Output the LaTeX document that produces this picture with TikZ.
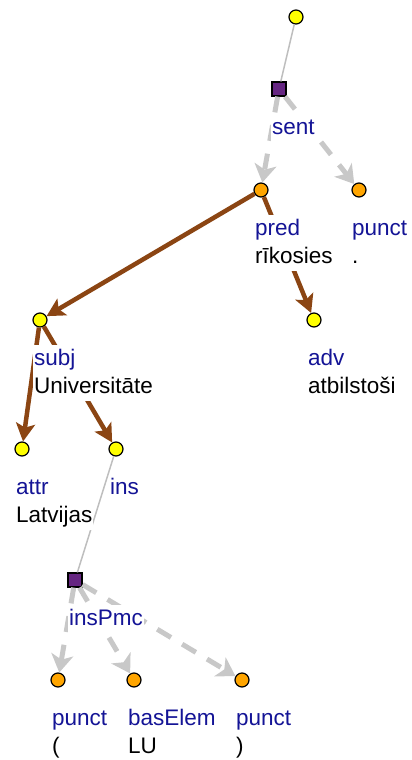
\documentclass[tikz,border=0pt]{standalone}
\usepackage{fontspec}
\setmainfont{Liberation Sans}
\usetikzlibrary{arrows.meta}

\definecolor{tokyellow}{RGB}{255,255,0}
\definecolor{tokorange}{RGB}{255,165,0}
\definecolor{phrpurple}{RGB}{102,38,130}
\definecolor{depbrown}{RGB}{139,69,19}
\definecolor{phrgray}{RGB}{200,200,200}
\definecolor{thingray}{RGB}{190,190,190}
\definecolor{fnblue}{RGB}{20,20,150}

\begin{document}
\begin{tikzpicture}
            [x=1pt,y=-1pt,
             tok/.style={draw, circle, line width=1.2pt, inner sep=0pt, minimum size=14pt},
             phr/.style={draw, rectangle, fill=phrpurple, line width=1.2pt, inner sep=0pt, minimum size=14pt},
             lbl/.style={font=\fontsize{22.5}{27}\selectfont, fill=white, anchor=base west,
                         inner xsep=1pt, inner ysep=3pt, text height=17pt, text depth=5pt},
             fn/.style={lbl, text=fnblue},
             wd/.style={lbl, text=black},
             dep/.style={draw=depbrown, line width=4.5pt, -{Stealth[length=18pt,width=19pt,inset=4pt]}},
             coord/.style={draw=phrgray, line width=5pt, dash pattern=on 16pt off 13pt,
                           -{Stealth[length=18pt,width=22pt,inset=5pt]}},
             link/.style={draw=thingray, line width=1.5pt}]
            \useasboundingbox (0,0) rectangle (412,760);

            % tree nodes
            \node[tok, fill=tokyellow] (root) at (296,17) {};
            \node[phr] (sent) at (279,89) {};
            \node[tok, fill=tokorange] (pred) at (261,190) {};
            \node[tok, fill=tokorange] (punctA) at (359,190) {};
            \node[tok, fill=tokyellow] (subj) at (40,320) {};
            \node[tok, fill=tokyellow] (adv) at (314,320) {};
            \node[tok, fill=tokyellow] (attr) at (22,449) {};
            \node[tok, fill=tokyellow] (ins) at (116,449) {};
            \node[phr] (insPmc) at (75,580) {};
            \node[tok, fill=tokorange] (punctB) at (58,680) {};
            \node[tok, fill=tokorange] (basElem) at (134,680) {};
            \node[tok, fill=tokorange] (punctC) at (242,680) {};

            % edges
            \foreach \from/\to in {root/sent, ins/insPmc}
            \draw[link] (\from) -- (\to);
            \foreach \from/\to in {sent/pred, sent/punctA, insPmc/punctB, insPmc/basElem, insPmc/punctC}
            \draw[coord] (\from) -- (\to);
            \foreach \from/\to in {pred/subj, pred/adv, subj/attr, subj/ins}
            \draw[dep] (\from) -- (\to);

            % labels
            \node[fn] (f-sent) at (271,134) {sent};
            \node[fn] (f-pred) at (254,235) {pred};
            \node[wd] (w-pred) at (254,263) {rīkosies};
            \node[fn] (f-punctA) at (351,235) {punct};
            \node[wd] (w-punctA) at (351,263) {.};
            \node[fn] (f-subj) at (33,365) {subj};
            \node[wd] (w-subj) at (33,393) {Universitāte};
            \node[fn] (f-adv) at (307,365) {adv};
            \node[wd] (w-adv) at (307,393) {atbilstoši};
            \node[fn] (f-attr) at (15,494) {attr};
            \node[wd] (w-attr) at (15,522) {Latvijas};
            \node[fn] (f-ins) at (109,494) {ins};
            \node[fn] (f-insPmc) at (68,625) {insPmc};
            \node[fn] (f-punctB) at (51,725) {punct};
            \node[wd] (w-punctB) at (51,753) {(};
            \node[fn] (f-basElem) at (127,725) {basElem};
            \node[wd] (w-basElem) at (127,753) {LU};
            \node[fn] (f-punctC) at (235,725) {punct};
            \node[wd] (w-punctC) at (235,753) {)};
          \end{tikzpicture}
\end{document}
